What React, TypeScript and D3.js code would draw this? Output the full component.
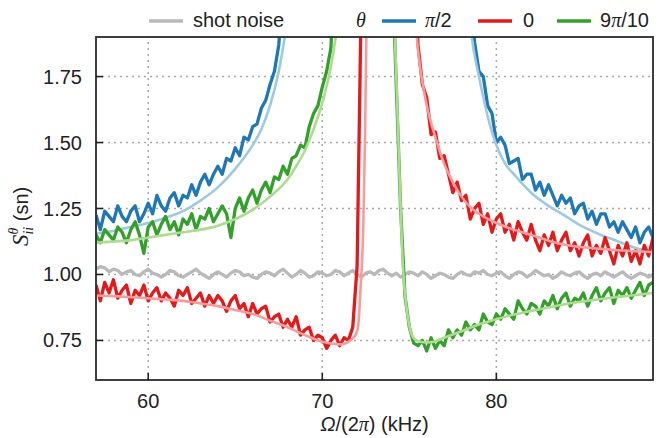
import React from "react";
import * as d3 from "d3";

const STEP = 0.25;
const xTicks = [60, 70, 80];
const yTicks = [0.75, 1.0, 1.25, 1.5, 1.75];

// shot noise, sampled every 0.25 kHz from 57 kHz
const shotStart = 57;
const shotNoise = [
  1.02, 1.03, 1.025, 1.01, 1.02, 1.015, 1.0, 1.01,
  1.015, 1.0, 0.995, 1.01, 1.02, 1.005, 1.0, 0.99,
  1.0, 1.015, 1.01, 0.995, 0.99, 1.0, 1.01, 1.02,
  1.005, 0.995, 0.985, 1.0, 1.01, 1.0, 0.99, 1.005,
  1.015, 1.01, 0.995, 1.0, 0.99, 0.985, 1.0, 1.01,
  1.005, 0.995, 1.01, 1.02, 1.005, 0.99, 1.0, 1.015,
  1.005, 0.99, 0.995, 1.01, 1.005, 0.995, 1.0, 1.015,
  1.01, 0.995, 1.005, 1.015, 1.0, 0.99, 1.005, 1.01,
  1.0, 1.015, 1.02, 1.005, 0.995, 1.005, 0.99, 1.0,
  1.01, 1.005, 0.995, 1.01, 1.0, 0.985, 0.995, 1.005,
  1.0, 0.99, 0.985, 1.0, 1.01, 1.0, 0.995, 1.01,
  1.005, 1.015, 1.0, 0.995, 1.005, 1.01, 0.995, 0.985,
  1.0, 1.01, 1.005, 0.99, 1.0, 1.015, 1.005, 0.995,
  1.0, 0.985, 0.995, 1.01, 1.0, 0.995, 1.005, 1.01,
  0.995, 0.985, 1.0, 1.005, 0.995, 1.01, 1.0, 0.99,
  1.0, 1.01, 0.995, 0.985, 0.995, 1.005, 1.0, 0.99,
  1.0,
];

// theta = pi/2 (blue)
const blueLeftStart = 57;
const blueLeft = [
  1.225, 1.17, 1.24, 1.22, 1.2, 1.26, 1.22, 1.2,
  1.24, 1.26, 1.2, 1.23, 1.27, 1.23, 1.3, 1.26,
  1.24, 1.29, 1.31, 1.26, 1.3, 1.29, 1.34, 1.3,
  1.35, 1.38, 1.34, 1.38, 1.41, 1.38, 1.44, 1.43,
  1.48, 1.45, 1.52, 1.51, 1.56, 1.57, 1.63, 1.66,
  1.72, 1.77, 1.87, 2.1, 2.4,
];
const blueRightStart = 78.25;
const blueRight = [
  2.3, 2.05, 1.88, 1.77, 1.75, 1.64, 1.61, 1.5,
  1.52, 1.49, 1.42, 1.43, 1.44, 1.36, 1.38, 1.38,
  1.32, 1.35, 1.3, 1.34, 1.3, 1.26, 1.3, 1.27,
  1.29, 1.23, 1.26, 1.27, 1.21, 1.24, 1.19, 1.23,
  1.23, 1.18, 1.2, 1.16, 1.2, 1.17, 1.14, 1.18,
  1.12, 1.16, 1.18, 1.14,
];
const blueFitLX = [57, 58, 59, 60, 61, 62, 63, 64, 65, 66, 66.5, 67, 67.5, 67.9, 68.1];
const blueFitLY = [1.155, 1.165, 1.18, 1.195, 1.215, 1.24, 1.28, 1.33, 1.4, 1.49, 1.55, 1.64, 1.77, 1.92, 2.0];
const blueFitRX = [78.4, 78.7, 79, 79.5, 80, 80.5, 81, 82, 83, 84, 85, 86, 87, 88, 89];
const blueFitRY = [2.0, 1.85, 1.75, 1.6, 1.49, 1.42, 1.38, 1.31, 1.26, 1.22, 1.18, 1.15, 1.125, 1.1, 1.085];

// theta = 0 (red)
const redLeftStart = 57;
const redLeft = [
  0.96, 0.9, 0.97, 0.93, 0.98, 0.91, 0.94, 0.96,
  0.89, 0.94, 0.92, 0.96, 0.9, 0.93, 0.95, 0.9,
  0.93, 0.91, 0.88, 0.94, 0.92, 0.95, 0.89, 0.91,
  0.93, 0.88, 0.92, 0.89, 0.92, 0.9, 0.86, 0.9,
  0.92, 0.87, 0.89, 0.84, 0.89, 0.85, 0.87, 0.88,
  0.82, 0.84, 0.85, 0.8, 0.83, 0.8, 0.84, 0.77,
  0.79, 0.8, 0.75, 0.77, 0.76, 0.72, 0.75, 0.77,
  0.73, 0.76, 0.75, 0.8, 1.03, 2.1,
];
const redRightStart = 75.25;
const redRight = [
  2.2, 1.87, 1.72, 1.67, 1.53, 1.54, 1.44, 1.45,
  1.38, 1.31, 1.35, 1.28, 1.3, 1.21, 1.25, 1.27,
  1.19, 1.23, 1.16, 1.21, 1.23, 1.16, 1.19, 1.13,
  1.2, 1.16, 1.13, 1.19, 1.13, 1.09, 1.15, 1.11,
  1.16, 1.09, 1.13, 1.16, 1.09, 1.12, 1.07, 1.12,
  1.15, 1.07, 1.11, 1.08, 1.14, 1.09, 1.04, 1.11,
  1.07, 1.12, 1.05, 1.09, 1.04, 1.11, 1.07, 1.14,
];
const redFitLX = [57, 58, 59, 60, 61, 62, 63, 64, 65, 66, 67, 68, 69, 70, 70.5, 71, 71.3, 71.6, 71.9, 72.05, 72.2, 72.35, 72.45, 72.55];
const redFitLY = [0.92, 0.918, 0.914, 0.91, 0.905, 0.9, 0.89, 0.88, 0.865, 0.85, 0.825, 0.8, 0.77, 0.745, 0.738, 0.735, 0.738, 0.75, 0.77, 0.8, 0.95, 1.17, 1.5, 2.0];
const redFitRX = [75.3, 75.5, 76, 76.5, 77, 77.5, 78, 78.5, 79, 80, 81, 82, 83, 84, 85, 86, 87, 88, 89];
const redFitRY = [2.0, 1.85, 1.64, 1.52, 1.42, 1.35, 1.295, 1.255, 1.23, 1.195, 1.17, 1.15, 1.128, 1.112, 1.103, 1.097, 1.092, 1.088, 1.085];

// theta = 9pi/10 (green)
const greenLeftStart = 57;
const greenLeft = [
  1.15, 1.12, 1.17, 1.15, 1.13, 1.18, 1.16, 1.12,
  1.17, 1.2, 1.15, 1.08, 1.18, 1.2, 1.15, 1.19,
  1.22, 1.17, 1.2, 1.15, 1.21, 1.19, 1.23, 1.17,
  1.22, 1.21, 1.25, 1.2, 1.23, 1.26, 1.23, 1.14,
  1.25, 1.29, 1.24, 1.29, 1.32, 1.27, 1.32, 1.35,
  1.31, 1.37, 1.36, 1.41, 1.38, 1.44, 1.45, 1.49,
  1.48, 1.56, 1.61, 1.64, 1.71, 1.77, 1.86, 2.3,
];
const greenRightStart = 74;
const greenRight = [
  2.2, 1.72, 1.25, 0.92, 0.8, 0.74, 0.73, 0.75,
  0.71, 0.76, 0.72, 0.75, 0.73, 0.79, 0.76, 0.79,
  0.77, 0.82, 0.79, 0.81, 0.79, 0.85, 0.82, 0.81,
  0.85, 0.83, 0.87, 0.85, 0.83, 0.9, 0.87, 0.85,
  0.89, 0.88, 0.85, 0.9, 0.88, 0.92, 0.87, 0.91,
  0.93, 0.88, 0.91, 0.9, 0.93, 0.88, 0.92, 0.95,
  0.9, 0.93, 0.95, 0.89, 0.94, 0.92, 0.95, 0.91,
  0.94, 0.97, 0.92, 0.96, 0.97,
];
const greenFitLX = [57, 58, 59, 60, 61, 62, 63, 64, 65, 66, 67, 68, 68.5, 69, 69.5, 70, 70.5, 70.8, 71.0];
const greenFitLY = [1.12, 1.125, 1.13, 1.14, 1.15, 1.16, 1.17, 1.185, 1.21, 1.245, 1.295, 1.36, 1.41, 1.47, 1.55, 1.65, 1.79, 1.91, 2.0];
const greenFitRX = [74.1, 74.2, 74.4, 74.65, 74.85, 75.05, 75.3, 75.6, 76, 76.4, 77, 78, 79, 80, 81, 82, 83, 84, 85, 86, 87, 88, 89];
const greenFitRY = [2.0, 1.85, 1.45, 1.01, 0.87, 0.79, 0.755, 0.745, 0.742, 0.745, 0.76, 0.785, 0.81, 0.83, 0.848, 0.862, 0.875, 0.888, 0.898, 0.907, 0.915, 0.922, 0.93];

const C = {
  gray: "#b9b9bc",
  blue: "#1f78b4",
  blueFit: "#9ccae4",
  red: "#e31a1c",
  redFit: "#f89c9b",
  green: "#33a02c",
  greenFit: "#addb8f",
};

const W = 663;
const H = 438;
const L = 96, R = 653, T = 37, B = 380;

type P = [number, number];
const sampled = (start: number, vals: number[]): P[] => vals.map((v, i) => [start + i * STEP, v]);
const paired = (xs: number[], ys: number[]): P[] => xs.map((xv, i) => [xv, ys[i]]);

export default function App() {
  const x = d3.scaleLinear().domain([57, 89]).range([L, R]);
  const y = d3.scaleLinear().domain([0.6, 1.9]).range([B, T]);
  const raw = d3.line<P>().x((d) => x(d[0])).y((d) => y(d[1]));
  const smooth = d3.line<P>().x((d) => x(d[0])).y((d) => y(d[1])).curve(d3.curveMonotoneX);

  const font = "'Liberation Sans', Arial, Helvetica, sans-serif";
  const serif = "'Liberation Serif', 'DejaVu Serif', serif";

  const dataLine = (pts: P[], color: string, key: string) => (
    <path key={key} d={raw(pts) || ""} fill="none" stroke={color} strokeWidth={3.3} strokeLinejoin="round" />
  );
  const fitLine = (pts: P[], color: string, key: string) => (
    <path key={key} d={smooth(pts) || ""} fill="none" stroke={color} strokeWidth={2.6} strokeLinecap="round" />
  );

  const legendY = 21;

  return (
    <svg width={W} height={H} style={{ position: "absolute", left: 0, top: 0, background: "#fff" }} fontFamily={font}>
      <defs>
        <clipPath id="plotClip">
          <rect x={L} y={T} width={R - L} height={B - T} />
        </clipPath>
      </defs>
      {/* grid */}
      <g stroke="#a9a9a9" strokeWidth={1.5} strokeDasharray="2,4">
        {xTicks.map((t) => (
          <line key={"gx" + t} x1={x(t)} x2={x(t)} y1={B} y2={T} />
        ))}
        {yTicks.map((t) => (
          <line key={"gy" + t} x1={L} x2={R} y1={y(t)} y2={y(t)} />
        ))}
      </g>

      <g clipPath="url(#plotClip)">
        {dataLine(sampled(shotStart, shotNoise), C.gray, "shot")}
        {dataLine(sampled(blueLeftStart, blueLeft), C.blue, "bl")}
        {dataLine(sampled(blueRightStart, blueRight), C.blue, "br")}
        {fitLine(paired(blueFitLX, blueFitLY), C.blueFit, "bfl")}
        {fitLine(paired(blueFitRX, blueFitRY), C.blueFit, "bfr")}
        {dataLine(sampled(redLeftStart, redLeft), C.red, "rl")}
        {dataLine(sampled(redRightStart, redRight), C.red, "rr")}
        {fitLine(paired(redFitLX, redFitLY), C.redFit, "rfl")}
        {fitLine(paired(redFitRX, redFitRY), C.redFit, "rfr")}
        {dataLine(sampled(greenLeftStart, greenLeft), C.green, "gl")}
        {dataLine(sampled(greenRightStart, greenRight), C.green, "gr")}
        {fitLine(paired(greenFitLX, greenFitLY), C.greenFit, "gfl")}
        {fitLine(paired(greenFitRX, greenFitRY), C.greenFit, "gfr")}
      </g>

      {/* frame */}
      <rect x={L} y={T} width={R - L} height={B - T} fill="none" stroke="#2b2b2b" strokeWidth={1.8} />

      {/* ticks */}
      <g stroke="#222" strokeWidth={1.6}>
        {xTicks.map((t) => (
          <line key={"tx" + t} x1={x(t)} x2={x(t)} y1={B} y2={B - 7} />
        ))}
        {yTicks.map((t) => (
          <line key={"ty" + t} x1={L} x2={L + 7} y1={y(t)} y2={y(t)} />
        ))}
      </g>

      {/* tick labels */}
      <g fontSize={20} fill="#222">
        {xTicks.map((t) => (
          <text key={"lx" + t} x={x(t)} y={408} textAnchor="middle">
            {d3.format("d")(t)}
          </text>
        ))}
        {yTicks.map((t) => (
          <text key={"ly" + t} x={82} y={y(t)} dy="0.35em" textAnchor="end">
            {d3.format(".2f")(t)}
          </text>
        ))}
      </g>

      {/* x axis title */}
      <text x={(L + R) / 2} y={431} textAnchor="middle" fontSize={20} fill="#222">
        <tspan fontStyle="italic">Ω</tspan>
        <tspan>/(2</tspan>
        <tspan fontStyle="italic" fontFamily={serif}>π</tspan>
        <tspan>) (kHz)</tspan>
      </text>

      {/* y axis title */}
      <text transform="translate(28,211) rotate(-90)" fontSize={20} fill="#222">
        <tspan x={-35} fontStyle="italic" fontFamily={serif} fontSize={23}>S</tspan>
        <tspan fontSize={14} fontStyle="italic" fontFamily={serif} dy={-10}>θ</tspan>
        <tspan fontSize={14} fontStyle="italic" fontFamily={serif} dx={-7} dy={15}>ii</tspan>
        <tspan dy={-5}> (sn)</tspan>
      </text>

      {/* legend */}
      <g fontSize={20} fill="#222">
        <line x1={149} x2={183} y1={legendY} y2={legendY} stroke={C.gray} strokeWidth={3.6} />
        <text x={193} y={27}>shot noise</text>
        <text x={356} y={27} fontStyle="italic" fontFamily={serif}>θ</text>
        <line x1={382} x2={416} y1={legendY} y2={legendY} stroke={C.blue} strokeWidth={3.6} />
        <text x={425} y={27}>
          <tspan fontStyle="italic" fontFamily={serif}>π</tspan>/2
        </text>
        <line x1={478} x2={512} y1={legendY} y2={legendY} stroke={C.red} strokeWidth={3.6} />
        <text x={523} y={27}>0</text>
        <line x1={557} x2={591} y1={legendY} y2={legendY} stroke={C.green} strokeWidth={3.6} />
        <text x={600} y={27}>
          9<tspan fontStyle="italic" fontFamily={serif}>π</tspan>/10
        </text>
      </g>
    </svg>
  );
}
